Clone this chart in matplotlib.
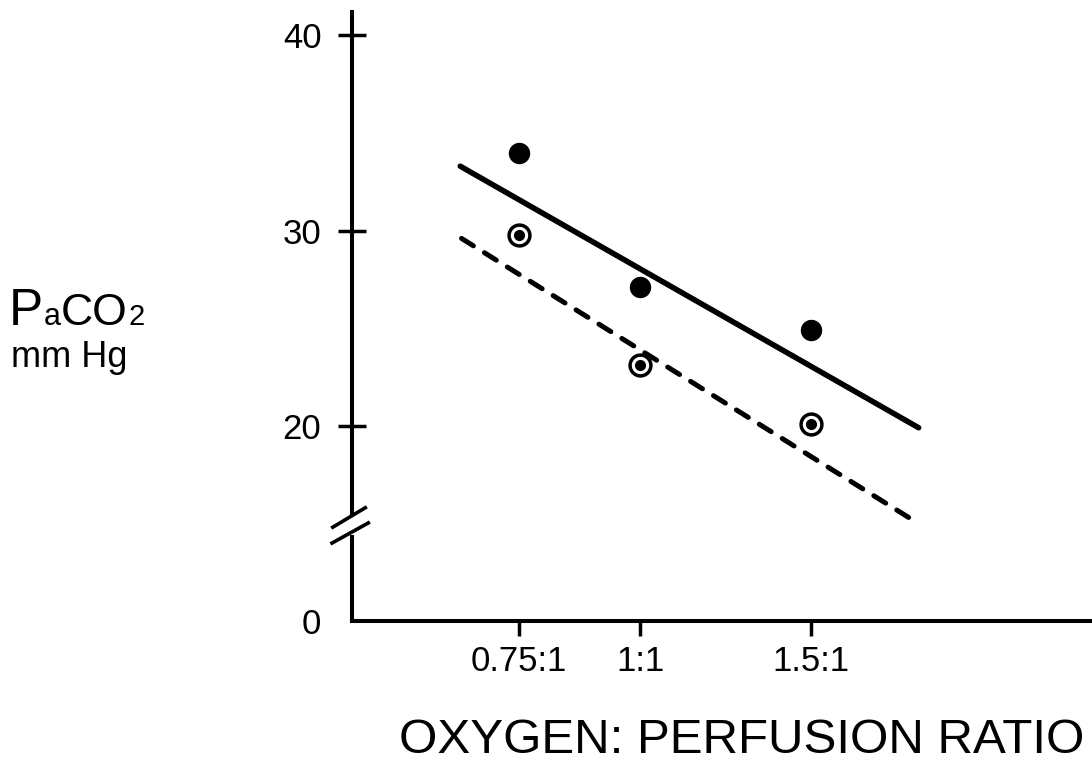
import matplotlib.pyplot as plt

# ------------------------------------------------
# data
# ------------------------------------------------
ratios = [0.75, 1.0, 1.5]
ratio_labels = ['0.75:1', '1:1', '1.5:1']
paco2_filled = [34.0, 27.1, 24.9]
paco2_open = [29.8, 23.1, 20.1]

# regression lines (end points)
fit_x_solid = [0.652, 1.94]
fit_y_solid = [33.3, 19.9]
fit_x_dashed = [0.654, 1.895]
fit_y_dashed = [29.6, 15.3]

# axis is broken below ~15: the value 10 on the drawn scale is labelled "0"
ytick_vals = [10, 20, 30, 40]
ytick_labels = ['0', '20', '30', '40']

plt.rcParams['font.family'] = ['Liberation Sans', 'DejaVu Sans']

W, H = 1092, 767
fig = plt.figure(figsize=(W / 100, H / 100), dpi=100)
ax = fig.add_axes([352 / W, 146 / H, 740 / W, 609 / H])

ax.set_xscale('log')
ax.set_xlim(0.504, 2.93)
ax.set_ylim(10, 41.2)

# lines
ax.plot(fit_x_solid, fit_y_solid, color='k', lw=4, solid_capstyle='round', zorder=2)
ax.plot(fit_x_dashed, fit_y_dashed, color='k', lw=3.6, dashes=(2.8, 2.6),
        dash_capstyle='round', zorder=2)

# points
ax.plot(ratios, paco2_filled, 'o', ms=14.4, color='k', ls='none', zorder=3)
ax.plot(ratios, paco2_open, 'o', ms=15, mfc='white', mec='k', mew=2.5,
        ls='none', zorder=3)
ax.plot(ratios, paco2_open, 'o', ms=7, color='k', ls='none', zorder=4)

# axes / spines
for s in ['top', 'right']:
    ax.spines[s].set_visible(False)
ax.spines['left'].set_linewidth(2.9)
ax.spines['bottom'].set_linewidth(2.9)
ax.spines['left'].set_bounds(15.5, 41.2)
ax.plot([0, 0], [10, 14.3], transform=ax.get_yaxis_transform(), color='k',
        lw=2.9, solid_capstyle='projecting', clip_on=False)

# break marks
ax.plot([-0.026, 0.018], [0.154, 0.186], transform=ax.transAxes, color='k',
        lw=2.6, clip_on=False)
ax.plot([-0.027, 0.022], [0.128, 0.161], transform=ax.transAxes, color='k',
        lw=2.6, clip_on=False)

ax.set_xticks([], minor=True)
ax.set_xticks(ratios, ratio_labels)
ax.set_yticks(ytick_vals, ytick_labels)
ax.yaxis.get_major_ticks()[0].tick1line.set_visible(False)

ax.tick_params(axis='y', direction='inout', length=20, width=2.5, pad=12,
               labelsize=25)
ax.tick_params(axis='x', direction='out', length=11, width=2.5, pad=6,
               labelsize=25)

ax.set_xlabel('OXYGEN: PERFUSION RATIO', fontsize=35.5)
ax.xaxis.label.set_verticalalignment('baseline')
ax.xaxis.set_label_coords(0.527, (621 - 753) / 609)

# y label: P_aCO_2 / mm Hg
base = (H - 325) / H
fig.text(9 / W, base, 'P', fontsize=37, va='baseline')
fig.text(44 / W, base, 'a', fontsize=22, va='baseline')
fig.text(61 / W, base, 'CO', fontsize=32, va='baseline')
fig.text(128 / W, base, '2', fontsize=21, va='baseline')
fig.text(11 / W, (H - 367) / H, 'mm Hg', fontsize=26, va='baseline')

fig.savefig('out.png', dpi=100)
